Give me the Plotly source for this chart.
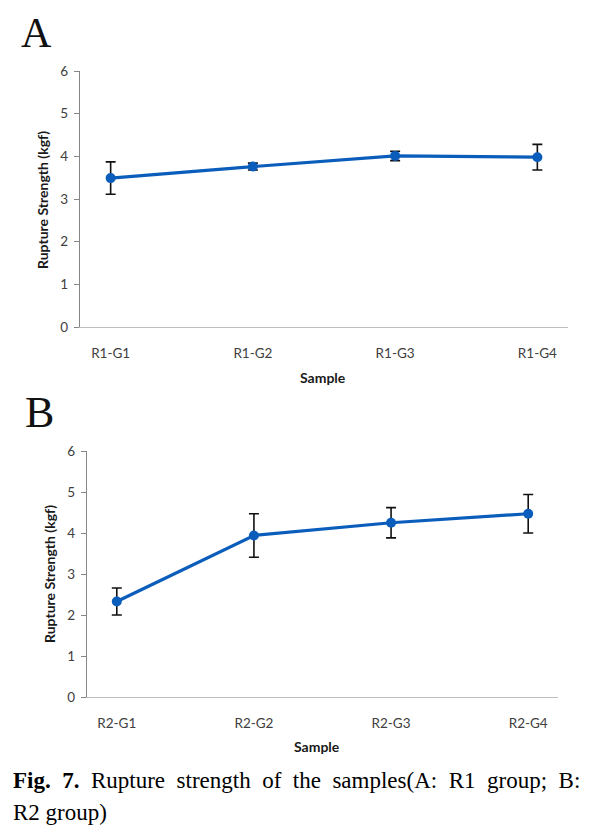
import plotly.graph_objects as go

W, H = 594, 832
OFF = 8  # page body margin offset

cats_a = ["R1-G1", "R1-G2", "R1-G3", "R1-G4"]
vals_a = [3.49, 3.76, 4.01, 3.98]
err_a = [0.38, 0.08, 0.11, 0.30]

cats_b = ["R2-G1", "R2-G2", "R2-G3", "R2-G4"]
vals_b = [2.33, 3.94, 4.25, 4.47]
err_b = [0.33, 0.53, 0.37, 0.47]

y_ticks = [0, 1, 2, 3, 4, 5, 6]

BLUE = "#0a5dbb"
SANS = "Lato, Open Sans, sans-serif"
SERIF = "Liberation Serif, Times New Roman, serif"
TICKFONT = dict(family=SANS, size=13.5, color="#404040")

def px_x(p):
    return (p - OFF) / W

def px_y(p):
    return 1 - (p - OFF) / H

fig = go.Figure()

for cats, vals, errs, xa, ya in [(cats_a, vals_a, err_a, "x", "y"), (cats_b, vals_b, err_b, "x2", "y2")]:
    fig.add_trace(go.Scatter(
        x=cats, y=vals, xaxis=xa, yaxis=ya, mode="lines+markers",
        line=dict(color=BLUE, width=3.2),
        marker=dict(color=BLUE, size=10),
        error_y=dict(type="data", array=errs, visible=True, color="#111111", thickness=1.6, width=5),
        showlegend=False, cliponaxis=False,
    ))

common_x = dict(type="category", showline=True, linecolor="#bdbdbd", linewidth=1.2,
                ticks="", showgrid=False, zeroline=False, tickfont=TICKFONT,
                ticklabelstandoff=14, fixedrange=True, automargin=False)
common_y = dict(range=[0, 6], tickvals=y_ticks, showline=True, linecolor="#868686", linewidth=1.2,
                ticks="outside", ticklen=5, tickcolor="#868686", showgrid=False, zeroline=False,
                tickfont=TICKFONT, ticklabelstandoff=3, fixedrange=True, automargin=False)

fig.update_layout(
    width=W, height=H, margin=dict(l=0, r=0, t=0, b=0, pad=0, autoexpand=False),
    paper_bgcolor="white", plot_bgcolor="white",
    xaxis=dict(common_x, domain=[px_x(80), px_x(568)], anchor="y"),
    yaxis=dict(common_y, domain=[px_y(327), px_y(71)], anchor="x"),
    xaxis2=dict(common_x, domain=[px_x(87), px_x(558)], anchor="y2"),
    yaxis2=dict(common_y, domain=[px_y(697), px_y(451)], anchor="x2"),
)

ann = []
def add_text(text, x, y, size, family, bold=False, angle=0, color="#1a1a1a", xanchor="center"):
    ann.append(dict(text=("<b>%s</b>" % text) if bold else text, x=px_x(x), y=px_y(y),
                    xref="paper", yref="paper", showarrow=False, textangle=angle,
                    xanchor=xanchor, yanchor="middle",
                    font=dict(family=family, size=size, color=color)))

add_text("A", 36, 33, 42, SERIF, color="#111111")
add_text("B", 39, 412, 44, SERIF, color="#111111")
add_text("Rupture Strength (kgf)", 42, 200, 14, SANS, bold=True, angle=-90)
add_text("Rupture Strength (kgf)", 49, 574, 14, SANS, bold=True, angle=-90)
add_text("Sample", 323, 377, 14, SANS, bold=True)
add_text("Sample", 317, 746, 14, SANS, bold=True)

caption_words = ["<b>Fig.</b>", "<b>7.</b>", "Rupture", "strength", "of", "the",
                 "samples(A:", "R1", "group;", "B:"]
add_text("\u00a0 ".join(caption_words), 11, 780, 23, SERIF, color="#000000", xanchor="left")
add_text("R2 group)", 11, 812, 23, SERIF, color="#000000", xanchor="left")

fig.update_layout(annotations=ann)
fig.write_html("out.html")
